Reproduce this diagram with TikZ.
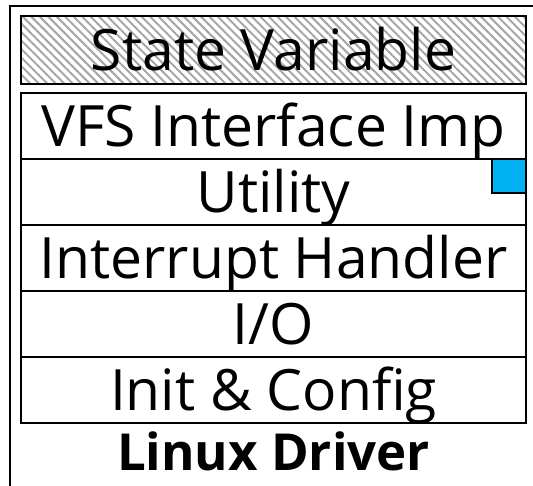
\documentclass[tikz,border=0pt]{standalone}
\usepackage{fontspec}
\setmainfont{Open Sans}
\usetikzlibrary{positioning,patterns.meta}
\definecolor{markblue}{HTML}{00B0F0}
\definecolor{hatchgrey}{HTML}{A6A6A6}

\begin{document}
\begin{tikzpicture}[x=1pt,y=-1pt,
  layer/.style={draw,line width=1.3pt,minimum width=505pt,minimum height=66pt,
                inner sep=0pt,outer sep=0pt,text height=41pt,text depth=0pt,
                font=\fontsize{57}{64}\selectfont},
  hatched/.style={layer,minimum height=68pt,
                  pattern={Lines[angle=-45,distance=6pt,line width=2pt]},
                  pattern color=hatchgrey},
  marker/.style={draw,line width=1.3pt,fill=markblue,minimum size=34pt,
                 inner sep=0pt,outer sep=0pt},
]
\useasboundingbox (0,0) rectangle (533,486);
\clip (0,0) rectangle (533,486);
\draw[line width=2pt] (10,500) |- (545,6);

\node[hatched,anchor=north west] (state) at (21,16) {State Variable};
\node[layer,anchor=north west] (vfs) at (21,93) {VFS Interface Imp};
\node[layer,below=0pt of vfs] (util) {Utility};
\node[layer,below=0pt of util] (irq) {Interrupt Handler};
\node[layer,below=0pt of irq] (io) {I/O};
\node[layer,below=0pt of io] (init) {Init \& Config};
\node[marker,anchor=north east] (mark) at (util.north east) {};

\node[font=\fontsize{51}{58}\selectfont\bfseries,anchor=base] (driver)
  at (273.5,470) {Linux Driver};
\end{tikzpicture}
\end{document}
